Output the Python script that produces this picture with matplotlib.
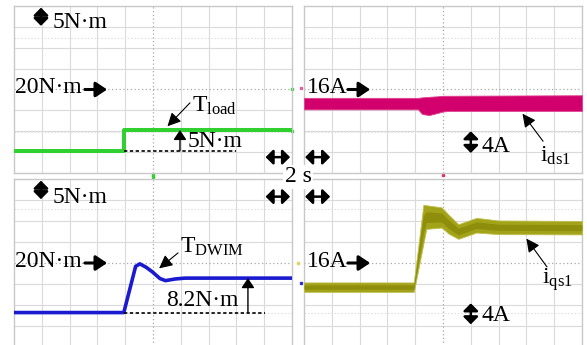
import matplotlib.pyplot as plt
import numpy as np

plt.rcParams['font.family'] = ['Liberation Serif', 'DejaVu Serif']
plt.rcParams['mathtext.fontset'] = 'custom'
plt.rcParams['mathtext.rm'] = 'Liberation Serif'
plt.rcParams['mathtext.it'] = 'Liberation Serif:italic'

# time base: 2 s/div, 10 div, trigger in the middle of the screen
# load torque step (N*m)
t_load = [-10, -2.1, -2.1, 10]
T_load = [5.3, 5.3, 10.3, 10.3]

# electromagnetic torque of the DWIM (N*m)
t_dwim = [-10, -2.1, -1.25, -0.95, -0.5, -0.05, 0.5, 0.9, 1.6, 2.3, 10]
T_dwim = [8.2, 8.2, 19.2, 19.8, 19.0, 17.9, 16.3, 15.8, 16.2, 16.4, 16.4]

# d-axis current envelope (A)
t_ids = [-10, -1.8, -1.5, -1.0, -0.4, 0.0, 0.5, 10]
ids_hi = [14.4, 14.4, 14.5, 14.6, 14.7, 14.8, 14.8, 14.9]
ids_lo = [12.2, 12.2, 11.3, 11.1, 11.5, 11.8, 11.9, 11.9]

# q-axis current envelope (A)
t_iqs = [-10, -2.1, -1.41, -1.2, -0.1, 0.4, 1.1, 2.4, 4.0, 10]
iqs_hi = [12.3, 12.3, 27.1, 27.0, 26.6, 25.2, 23.4, 24.6, 24.1, 24.0]
iqs_lo = [10.5, 10.5, 19.7, 22.5, 22.75, 21.6, 20.6, 21.8, 21.5, 21.45]

W, H = 587, 345
fig = plt.figure(figsize=(W / 100, H / 100), dpi=100)
FS = 17


def rect(x0, y0, x1, y1):
    return [x0 / W, (H - y1) / H, (x1 - x0) / W, (y1 - y0) / H]


def scope(r, mid, vdiv, extra):
    ax = fig.add_axes(r)
    ax.set_xlim(-10, 10)
    ax.set_ylim(mid - 4 * vdiv, mid + 4 * vdiv)
    ax.set_xticks([])
    ax.set_yticks([])
    for s in ax.spines.values():
        s.set_color('#c8c8c8')
        s.set_linewidth(1)
    for k in range(-8, 10, 2):
        if k:
            ax.axvline(k, color='#dadada', lw=0.8, zorder=0)
    for k in range(-3, 4):
        if k:
            ax.axhline(mid + k * vdiv, color='#dadada', lw=0.8, zorder=0)
    ax.axvline(0, color='#a8a8a8', lw=0.9, ls=(0, (1, 2)), zorder=0)
    ax.axhline(mid, color='#a8a8a8', lw=0.9, ls=(0, (1, 2)), zorder=0)
    for e in extra:
        ax.axhline(mid + e * vdiv, color='#e2e2e2', lw=0.8, ls=(0, (1.5, 1.5)), zorder=0)
    return ax


def arrow(ax, start, end, coords='axes fraction', lw=2.0, ms=14,
          style='-|>,head_length=0.45,head_width=0.3'):
    ax.annotate('', xy=end, xytext=start, xycoords=coords, textcoords=coords,
                arrowprops=dict(arrowstyle=style, color='black', lw=lw,
                                mutation_scale=ms, shrinkA=0, shrinkB=0),
                annotation_clip=False)


def double(ax, start, end):
    # scale marker: filled heads on both ends
    arrow(ax, start, end, lw=1.8, ms=13,
          style='<|-|>,head_length=0.34,head_width=0.34')


def pointer(ax, start, end):
    ax.annotate('', xy=end, xytext=start, xycoords='axes fraction',
                textcoords='axes fraction',
                arrowprops=dict(arrowstyle='-|>,head_length=0.5,head_width=0.25',
                                color='black', lw=0.8,
                                mutation_scale=16, shrinkA=0, shrinkB=0),
                annotation_clip=False)


def txt(ax, x, y, s, **kw):
    ax.text(x, y, s, transform=ax.transAxes, fontsize=FS, va='center',
            ha='left', **kw)


ax_tl = scope(rect(14, 6, 292, 173), 20, 5, (2.48, -2.05))
ax_tr = scope(rect(304, 6, 582, 173), 16, 4, (2.48, -2.05))
ax_bl = scope(rect(14, 179, 292, 347), 20, 5, (2.55, -2.4))
ax_br = scope(rect(304, 179, 582, 347), 16, 4, (2.55, -2.4))

# traces
ax_tl.plot(t_load, T_load, color='#2fd02f', lw=2.9, solid_capstyle='butt', zorder=3)
ax_bl.plot(t_dwim, T_dwim, color='#1a1ad0', lw=2.6, zorder=3)

ax_tr.fill_between(t_ids, ids_lo, ids_hi, color='#d2006c', lw=0.6,
                   edgecolor='#e0408e', zorder=3)

iqs_hi_a = np.array(iqs_hi)
iqs_lo_a = np.array(iqs_lo)
mid_q = (iqs_hi_a + iqs_lo_a) / 2
half_q = (iqs_hi_a - iqs_lo_a) / 2
ax_br.fill_between(t_iqs, iqs_lo, iqs_hi, color='#a3a31a', lw=0.6,
                   edgecolor='#c0c050', zorder=3)
ax_br.fill_between(t_iqs, mid_q - 0.45 * half_q, mid_q + 0.45 * half_q,
                   color='#8e8e0c', lw=0, zorder=3)

# ---- top-left: load torque
double(ax_tl, (0.097, 0.881), (0.097, 0.99))
txt(ax_tl, 0.14, 0.90, '5N\u00b7m')
txt(ax_tl, 0.002, 0.51, '20N\u00b7m')
arrow(ax_tl, (0.255, 0.5), (0.335, 0.5), lw=2.2, ms=15)
txt(ax_tl, 0.64, 0.40, r'T$_{\mathrm{load}}$')
pointer(ax_tl, (0.633, 0.42), (0.552, 0.28))
ax_tl.plot([-2.1, 6.0], [T_load[0], T_load[0]], color='black', lw=1.2,
           ls=(0, (2, 1.5)), zorder=4)
arrow(ax_tl, (1.94, T_load[0]), (1.94, T_load[-1]), coords='data', lw=1.0, ms=13)
ax_tl.text(2.5, 7.6, '5N\u00b7m', fontsize=FS, va='center', ha='left')
double(ax_tl, (0.905, 0.095), (0.993, 0.095))

# ---- top-right: d-axis current
txt(ax_tr, 0.012, 0.51, '16A')
arrow(ax_tr, (0.158, 0.5), (0.238, 0.5), lw=2.2, ms=15)
double(ax_tr, (0.60, 0.12), (0.60, 0.25))
txt(ax_tr, 0.64, 0.16, '4A')
txt(ax_tr, 0.848, 0.105, r'i$_{\mathrm{ds1}}$')
pointer(ax_tr, (0.86, 0.19), (0.786, 0.355))
double(ax_tr, (0.004, 0.095), (0.094, 0.095))

# ---- bottom-left: DWIM torque
double(ax_bl, (0.097, 0.88), (0.097, 0.99))
txt(ax_bl, 0.14, 0.89, '5N\u00b7m')
double(ax_bl, (0.905, 0.895), (0.993, 0.895))
txt(ax_bl, 0.002, 0.51, '20N\u00b7m')
arrow(ax_bl, (0.255, 0.5), (0.335, 0.5), lw=2.2, ms=15)
txt(ax_bl, 0.597, 0.595, r'T$_{\mathrm{DWIM}}$')
pointer(ax_bl, (0.59, 0.56), (0.522, 0.468))
ax_bl.plot([-2.1, 8.06], [T_dwim[0], T_dwim[0]], color='black', lw=1.2,
           ls=(0, (2, 1.5)), zorder=4)
arrow(ax_bl, (6.83, T_dwim[0]), (6.83, T_dwim[-1]), coords='data', lw=1.0, ms=13)
ax_bl.text(0.95, 11.0, '%.1fN\u00b7m' % (T_dwim[-1] - T_dwim[0]), fontsize=FS,
           va='center', ha='left')

# ---- bottom-right: q-axis current
double(ax_br, (0.004, 0.895), (0.094, 0.895))
txt(ax_br, 0.012, 0.51, '16A')
arrow(ax_br, (0.158, 0.5), (0.238, 0.5), lw=2.2, ms=15)
txt(ax_br, 0.855, 0.40, r'i$_{\mathrm{qs1}}$')
pointer(ax_br, (0.874, 0.477), (0.80, 0.645))
double(ax_br, (0.60, 0.135), (0.60, 0.26))
txt(ax_br, 0.64, 0.19, '4A')

# channel markers at the screen edges
ax_tl.plot([1.0, 1.0], [0.5, 0.25], 's', ms=2, color='#2fd02f',
           transform=ax_tl.transAxes, clip_on=False)
ax_tl.plot([0.5], [-0.012], 's', ms=2, color='#2fd02f',
           transform=ax_tl.transAxes, clip_on=False)
ax_tr.plot([-0.01], [0.51], 's', ms=2, color='#e060a0',
           transform=ax_tr.transAxes, clip_on=False)
ax_tr.plot([0.5], [-0.012], 's', ms=2, color='#e0306a',
           transform=ax_tr.transAxes, clip_on=False)
ax_bl.plot([1.02], [0.5], 's', ms=2, color='#e8d060',
           transform=ax_bl.transAxes, clip_on=False)
ax_br.plot([-0.01], [0.38], 's', ms=2, color='#3030d0',
           transform=ax_br.transAxes, clip_on=False)
ax_bl.plot([0.5], [1.01], 's', ms=2, color='#2fd02f',
           transform=ax_bl.transAxes, clip_on=False)

# shared time scale
fig.text(298 / W, 1 - 177 / H, '2 s', fontsize=FS, ha='center', va='center',
         bbox=dict(facecolor='white', edgecolor='none', pad=1.0))

fig.savefig('out.png', dpi=100)
